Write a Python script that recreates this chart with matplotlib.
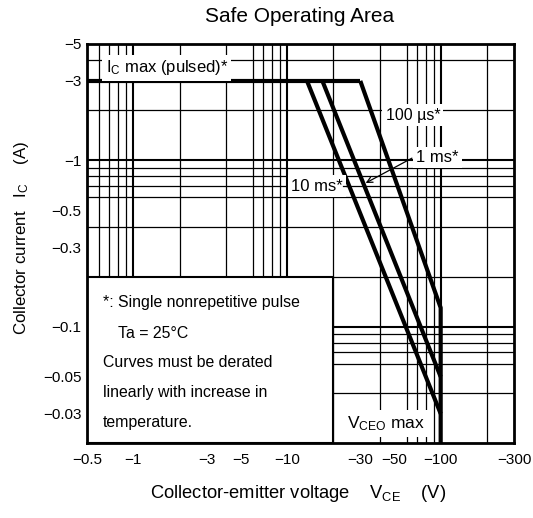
import numpy as np
import matplotlib
matplotlib.use('Agg')
import matplotlib.pyplot as plt
from matplotlib.ticker import FixedLocator, LogLocator, NullFormatter
from matplotlib.patches import Rectangle

plt.rcParams['font.family'] = ['Liberation Sans', 'DejaVu Sans']
plt.rcParams['mathtext.fontset'] = 'custom'
plt.rcParams['mathtext.rm'] = 'Liberation Sans'
plt.rcParams['mathtext.it'] = 'Liberation Sans:italic'

# 数据（绝对值，标签加负号）
vce_ticks = [0.5, 1, 3, 5, 10, 30, 50, 100, 300]
ic_ticks = [0.03, 0.05, 0.1, 0.3, 0.5, 1, 3, 5]

ic_max_v = [0.5, 30]
ic_max_i = [3, 3]
t100us_v = [30, 100, 100]
t100us_i = [3, 0.13, 0.02]
t1ms_v = [17, 100]
t1ms_i = [3, 0.05]
t10ms_v = [13.5, 100]
t10ms_i = [3, 0.03]

W, H = 533, 518
fig = plt.figure(figsize=(W / 100, H / 100), dpi=100)
ax = fig.add_axes([87 / W, 1 - 443 / H, 427 / W, 399 / H])
ax.set_xscale('log')
ax.set_yscale('log')
ax.set_xlim(0.5, 300)
ax.set_ylim(0.02, 5)

# 网格
ax.set_axisbelow(True)
ax.xaxis.set_major_locator(FixedLocator(vce_ticks))
ax.yaxis.set_major_locator(FixedLocator(ic_ticks))
ax.set_xticklabels([f'\u2212{v:g}' for v in vce_ticks])
ax.set_yticklabels([f'\u2212{v:g}' for v in ic_ticks])
ax.xaxis.set_minor_locator(LogLocator(base=10, subs=np.arange(1, 10), numticks=50))
ax.yaxis.set_minor_locator(LogLocator(base=10, subs=np.arange(1, 10), numticks=50))
ax.xaxis.set_minor_formatter(NullFormatter())
ax.yaxis.set_minor_formatter(NullFormatter())
ax.grid(False, which='major')
ax.grid(True, which='minor', color='black', lw=0.9)
for k in [1, 10, 100]:
    ax.axvline(k, color='black', lw=1.5, zorder=0.6)
for k in [0.1, 1]:
    ax.axhline(k, color='black', lw=1.5, zorder=0.6)
ax.tick_params(which='both', length=0, labelsize=11)
ax.tick_params(axis='x', pad=7)
ax.tick_params(axis='y', pad=4)
for s in ax.spines.values():
    s.set_linewidth(2)
    s.set_zorder(5)

# 曲线
kw = dict(color='black', lw=3, solid_capstyle='butt', zorder=3)
ax.plot(ic_max_v, ic_max_i, **kw)
ax.plot(t100us_v, t100us_i, **kw)
ax.plot(t1ms_v, t1ms_i, **kw)
ax.plot(t10ms_v, t10ms_i, **kw)

# 说明框
ax.add_patch(Rectangle((0.5, 0.02), 20 - 0.5, 0.2 - 0.02, fc='white', ec='black', lw=1.5, zorder=2))
notes = ['*: Single nonrepetitive pulse', 'Ta = 25\u00b0C', 'Curves must be derated',
         'linearly with increase in', 'temperature.']
note_x = [0.636, 0.80, 0.636, 0.636, 0.636]
note_y = [0.139, 0.0909, 0.0608, 0.0401, 0.0266]
for t, x, y in zip(notes, note_x, note_y):
    ax.text(x, y, t, fontsize=11.4, ha='left', va='center', zorder=4)

wbox = dict(boxstyle='square,pad=0.2', fc='white', ec='none')
ax.text(0.66, 3.6, r'$\mathrm{I_C}$ max (pulsed)*', fontsize=12, ha='left', va='center',
        bbox=wbox, zorder=4)
ax.text(66, 1.87, '100 \u00b5s*', fontsize=11.5, ha='center', va='center', bbox=wbox, zorder=4)
ax.text(95, 1.04, '1 ms*', fontsize=12, ha='center', va='center', bbox=wbox, zorder=4)
ax.text(15.7, 0.70, '10 ms*', fontsize=12, ha='center', va='center', bbox=wbox, zorder=4)
ax.text(24.5, 0.0262, r'$\mathrm{V_{CEO}}$ max', fontsize=12.5, ha='left', va='center',
        bbox=dict(boxstyle='square,pad=0.25', fc='white', ec='none'), zorder=4)
ax.plot([23.2, 25.4], [0.70, 0.70], color='black', lw=0.9, zorder=4)
ax.annotate('', xy=(32.5, 0.73), xytext=(65, 1.03),
            arrowprops=dict(arrowstyle='->', color='black', lw=0.9, shrinkA=0, shrinkB=0),
            zorder=4)

fig.text(300 / W, 1 - 16 / H, 'Safe Operating Area', fontsize=15, ha='center', va='center')
fig.text(298 / W, 1 - 494 / H, r'Collector-emitter voltage    $\mathrm{V_{CE}}$    (V)',
         fontsize=13.2, ha='center', va='center')
fig.text(22 / W, 1 - 238 / H, r'Collector current   $\mathrm{I_C}$    (A)',
         fontsize=12.2, ha='center', va='center', rotation=90)

fig.savefig('out.png', dpi=100)
